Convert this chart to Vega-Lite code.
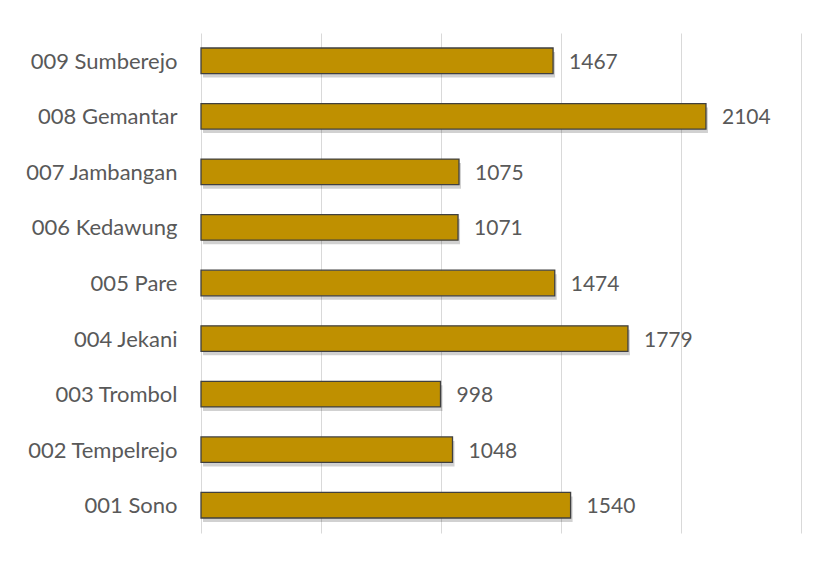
{
  "$schema": "https://vega.github.io/schema/vega-lite/v6.json",
  "width": 600,
  "height": 500,
  "autosize": {"type": "none"},
  "padding": {"left": 201, "top": 33, "right": 27, "bottom": 30},
  "background": "white",
  "config": {
    "view": {"stroke": null},
    "font": "Lato"
  },
  "data": {
    "values": [
      {"desa": "009 Sumberejo", "jumlah": 1467},
      {"desa": "008 Gemantar", "jumlah": 2104},
      {"desa": "007 Jambangan", "jumlah": 1075},
      {"desa": "006 Kedawung", "jumlah": 1071},
      {"desa": "005 Pare", "jumlah": 1474},
      {"desa": "004 Jekani", "jumlah": 1779},
      {"desa": "003 Trombol", "jumlah": 998},
      {"desa": "002 Tempelrejo", "jumlah": 1048},
      {"desa": "001 Sono", "jumlah": 1540}
    ]
  },
  "encoding": {
    "y": {
      "field": "desa", "type": "nominal", "sort": null,
      "scale": {"paddingInner": 0.54, "paddingOuter": 0.27},
      "axis": {"title": null, "labelFontSize": 22, "labelColor": "#595959", "labelPadding": 24, "labelOffset": 1, "ticks": false, "domain": false, "labelFont": "Lato", "labelLimit": 300}
    }
  },
  "layer": [
    {
      "mark": {"type": "bar", "color": "#000000", "opacity": 0.18, "xOffset": 2, "yOffset": 4},
      "encoding": {
        "x": {"field": "jumlah", "type": "quantitative", "scale": {"domain": [0, 2500], "nice": false},
          "axis": {"title": null, "labels": false, "ticks": false, "domain": false, "values": [0, 500, 1000, 1500, 2000, 2500], "gridColor": "#d9d9d9", "gridWidth": 1}}
      }
    },
    {
      "mark": {"type": "bar", "color": "#BF9000", "stroke": "#404040", "strokeWidth": 1.3},
      "encoding": {
        "x": {"field": "jumlah", "type": "quantitative"}
      }
    },
    {
      "mark": {"type": "text", "align": "left", "baseline": "middle", "dx": 16, "dy": 2, "fontSize": 21, "color": "#595959", "font": "Lato"},
      "encoding": {
        "x": {"field": "jumlah", "type": "quantitative"},
        "text": {"field": "jumlah", "type": "quantitative", "format": "d"}
      }
    }
  ]
}
